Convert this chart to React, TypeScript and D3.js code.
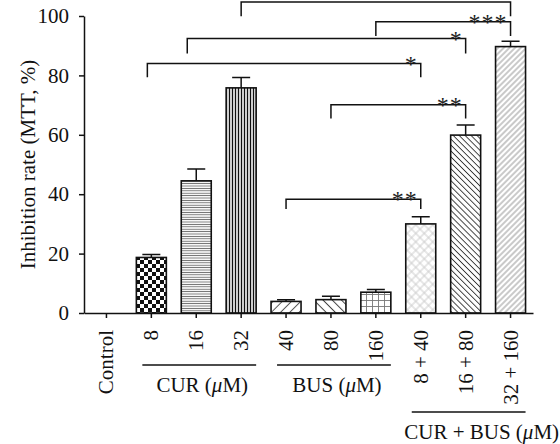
import React, { useRef, useEffect } from 'react';
import * as d3 from 'd3';

// bar categories and values
const categories = ['Control', '8', '16', '32', '40', '80', '160', '8 + 40', '16 + 80', '32 + 160'];
const means = [0, 18.7, 44.5, 75.8, 3.9, 4.5, 7.0, 30.0, 59.9, 89.7];
const errors = [0, 1.0, 4.0, 3.5, 0.6, 1.1, 0.9, 2.4, 3.4, 1.8];
const fills = ['none', 'checker', 'hlines', 'vlines', 'diagR', 'diagL', 'grid', 'cross', 'diagLDense', 'diagRDense'];

const yTicks = [0, 20, 40, 60, 80, 100];

// group annotations under the x axis
const groupLabels = ['CUR', 'BUS', 'CUR + BUS'];
const groupFirst = [1, 4, 7];
const groupLast = [3, 6, 9];
const groupRow = [0, 0, 1];

// significance brackets (category indices, line level, foot level in %)
const bracketFrom = [3, 6, 2, 1, 5, 4];
const bracketTo = [9, 9, 8, 7, 8, 7];
const bracketTop = [104.7, 98.1, 92.4, 84.0, 70.1, 38.3];
const bracketFoot = [99.9, 93.3, 87.4, 79.4, 65.5, 35.0];
const bracketLabel = ['', '***', '*', '*', '**', '**'];
const bracketNudge = [0, 0, -9, -4, 0, 0];

const FONT = '"Liberation Serif", "DejaVu Serif", serif';
const FS = 21;

const BarChart = () => {
    const chartRef = useRef<SVGSVGElement>(null);

    useEffect(() => {
        const root = d3.select(chartRef.current);
        root.selectAll('*').remove();

        const width = 560;
        const height = 444;
        root.attr('width', width).attr('height', height);

        const x = d3.scaleBand<string>()
            .domain(categories)
            .range([84, 533])
            .paddingInner(0.332)
            .paddingOuter(0.166);
        const y = d3.scaleLinear().domain([0, 100]).range([313, 16]);
        const cx = (i: number) => (x(categories[i]) as number) + x.bandwidth() / 2;

        // fill patterns
        const defs = root.append('defs');
        const pat = (id: string, w: number, h: number, rot = 0) => {
            const p = defs.append('pattern')
                .attr('id', id)
                .attr('patternUnits', 'userSpaceOnUse')
                .attr('width', w)
                .attr('height', h);
            if (rot) p.attr('patternTransform', `rotate(${rot})`);
            p.append('rect').attr('width', w).attr('height', h).attr('fill', 'white');
            return p;
        };

        const checker = pat('checker', 8, 8);
        checker.append('rect').attr('width', 4).attr('height', 4).attr('fill', '#111');
        checker.append('rect').attr('x', 4).attr('y', 4).attr('width', 4).attr('height', 4).attr('fill', '#111');

        pat('hlines', 4, 2.4).append('line')
            .attr('x1', 0).attr('x2', 4).attr('y1', 1.2).attr('y2', 1.2)
            .attr('stroke', '#666').attr('stroke-width', 0.9);

        pat('vlines', 3, 4).append('rect')
            .attr('x', 0.8).attr('width', 1.4).attr('height', 4).attr('fill', '#111');

        const diag = (id: string, gap: number, rot: number, color: string, sw: number) => {
            pat(id, gap, 10, rot).append('line')
                .attr('x1', gap / 2).attr('x2', gap / 2).attr('y1', 0).attr('y2', 10)
                .attr('stroke', color).attr('stroke-width', sw);
        };
        diag('diagR', 6.5, 45, '#555', 1);
        diag('diagL', 6.5, -45, '#444', 1);
        diag('diagLDense', 4.2, -45, '#333', 0.9);
        diag('diagRDense', 4, 45, '#888', 0.9);

        const grid = pat('grid', 6, 6);
        grid.append('path').attr('d', 'M0,0.5H6M0.5,0V6')
            .attr('stroke', '#777').attr('stroke-width', 0.9).attr('fill', 'none');

        const cross = pat('cross', 6, 6, 45);
        cross.append('path').attr('d', 'M3,0V6M0,3H6')
            .attr('stroke', '#c8c8c8').attr('stroke-width', 0.9).attr('fill', 'none');

        const g = root.append('g');

        // bars
        categories.forEach((c, i) => {
            if (means[i] <= 0) return;
            g.append('rect')
                .attr('x', x(c) as number)
                .attr('y', y(means[i]))
                .attr('width', x.bandwidth())
                .attr('height', y(0) - y(means[i]))
                .attr('fill', `url(#${fills[i]})`)
                .attr('stroke', '#111')
                .attr('stroke-width', 1.6);
            // error bar (upper half)
            g.append('path')
                .attr('d', `M${cx(i)},${y(means[i])}V${y(means[i] + errors[i])}M${cx(i) - 9},${y(means[i] + errors[i])}H${cx(i) + 9}`)
                .attr('stroke', '#111')
                .attr('stroke-width', 1.5)
                .attr('fill', 'none');
        });

        // axes
        const yAxis = g.append('g').attr('transform', 'translate(84,0)')
            .call(d3.axisLeft(y).tickValues(yTicks).tickSize(5).tickPadding(10).tickSizeOuter(0));
        const xAxis = g.append('g').attr('transform', `translate(0,${y(0)})`)
            .call(d3.axisBottom(x).tickSize(5).tickSizeOuter(0).tickFormat(() => ''));
        [yAxis, xAxis].forEach((a) => {
            a.select('.domain').attr('stroke', '#111').attr('stroke-width', 1.5);
            a.selectAll('.tick line').attr('stroke', '#111').attr('stroke-width', 1.5);
        });
        yAxis.selectAll('.tick text')
            .attr('font-family', FONT).attr('font-size', FS).attr('fill', '#111');

        // rotated category labels
        categories.forEach((c, i) => {
            g.append('text')
                .attr('transform', `translate(${cx(i) + 7},330) rotate(-90)`)
                .attr('text-anchor', 'end')
                .attr('font-family', FONT)
                .attr('font-size', FS)
                .attr('fill', '#111')
                .text(c);
        });

        // group lines and labels
        groupLabels.forEach((lab, k) => {
            const x0 = cx(groupFirst[k]) - 9;
            const x1 = cx(groupLast[k]) + 15;
            const ly = groupRow[k] === 0 ? 365 : 412;
            g.append('line')
                .attr('x1', x0).attr('x2', x1).attr('y1', ly).attr('y2', ly)
                .attr('stroke', '#111').attr('stroke-width', 1.5);
            const t = g.append('text')
                .attr('x', (x0 + x1) / 2 + (groupRow[k] === 0 ? 3 : 13))
                .attr('y', ly + 27)
                .attr('text-anchor', 'middle')
                .attr('font-family', FONT)
                .attr('font-size', FS)
                .attr('fill', '#111');
            t.append('tspan').text(`${lab} (`);
            t.append('tspan').attr('font-style', 'italic').text('\u03bc');
            t.append('tspan').text('M)');
        });

        // y axis title
        g.append('text')
            .attr('transform', `translate(35,${(y(0) + y(100)) / 2}) rotate(-90)`)
            .attr('text-anchor', 'middle')
            .attr('font-family', FONT)
            .attr('font-size', FS)
            .attr('fill', '#111')
            .text('Inhibition rate (MTT, %)');

        // significance brackets
        bracketFrom.forEach((from, k) => {
            const xa = cx(from) + bracketNudge[k];
            const xb = cx(bracketTo[k]);
            const yt = y(bracketTop[k]);
            const yf = y(bracketFoot[k]);
            g.append('path')
                .attr('d', `M${xa},${yf}V${yt}H${xb}V${yf}`)
                .attr('stroke', '#111')
                .attr('stroke-width', 1.5)
                .attr('fill', 'none');
            if (bracketLabel[k]) {
                g.append('text')
                    .attr('x', xb - 3)
                    .attr('y', yt + 8)
                    .attr('text-anchor', 'end')
                    .attr('font-family', FONT)
                    .attr('font-size', 24)
                    .attr('letter-spacing', 1)
                    .attr('fill', '#222')
                    .text(bracketLabel[k]);
            }
        });
    }, []);

    return <svg ref={chartRef} style={{ position: 'absolute', left: 0, top: 0 }}></svg>;
};

export default function App() {
    return <BarChart />;
}
